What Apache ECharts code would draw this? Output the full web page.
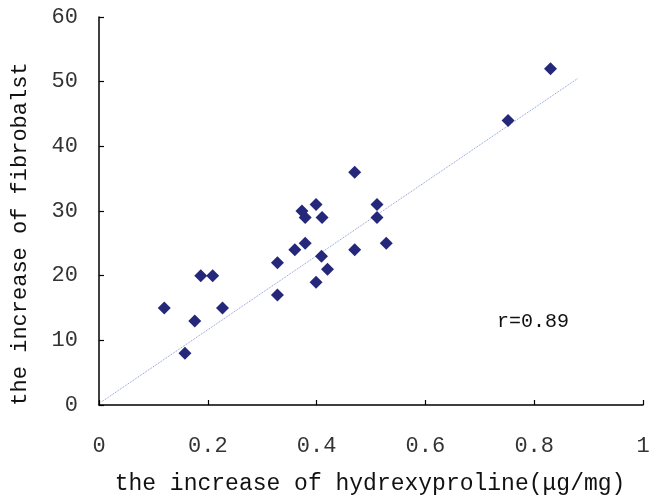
<!DOCTYPE html>
<html><head><meta charset="utf-8">
<script src="https://cdn.jsdelivr.net/npm/echarts@6/dist/echarts.min.js"></script>
<style>html,body{margin:0;padding:0;background:#fff}#c{width:650px;height:498px}</style>
</head><body><div id="c"></div>
<script>
const hydroxyproline = [0.12,0.158,0.176,0.187,0.209,0.227,0.328,0.328,0.36,0.379,0.373,0.379,0.399,0.399,0.409,0.41,0.42,0.47,0.47,0.511,0.511,0.528,0.752,0.83];
const fibroblast     = [15,8,13,20,20,15,22,17,24,25,30,29,31,19,23,29,21,36,24,31,29,25,44,52];
const trendX = [0.005, 0.88];
const trendY = [0.5, 50.5];
const xTicks = [0,0.2,0.4,0.6,0.8,1];
const yTicks = [0,10,20,30,40,50,60];
const rLabel = 'r=0.89';
const xTitle = 'the increase of hydrexyproline(\u03bcg/mg)';
const yTitle = 'the increase of fibrobalst';

const font = '"Liberation Mono", monospace';
const chart = echarts.init(document.getElementById('c'));
chart.setOption({
  animation:false,
  grid:{left:99,top:17,right:7,bottom:93,containLabel:false,outerBoundsMode:'none'},
  xAxis:{type:'value',min:0,max:1,interval:0.2,
    axisLine:{lineStyle:{color:'#000',width:1.5}},
    axisTick:{inside:true,length:5,lineStyle:{color:'#000',width:1.2}},
    splitLine:{show:false},
    axisLabel:{margin:30,fontFamily:font,fontSize:22,color:'#333',
      formatter:v=>String(parseFloat(v.toFixed(1)))}},
  yAxis:{type:'value',min:0,max:60,interval:10,
    axisLine:{show:true,lineStyle:{color:'#000',width:1.5}},
    axisTick:{show:true,inside:true,length:5,lineStyle:{color:'#000',width:1.2}},
    splitLine:{show:false},
    axisLabel:{margin:21,fontFamily:font,fontSize:22,color:'#333'}},
  graphic:[
    {type:'text',left:497,top:312,style:{text:rLabel,fontFamily:font,fontSize:20,fill:'#111'}},
    {type:'text',x:370,y:484,style:{text:xTitle,fontFamily:font,fontSize:23,fill:'#111',align:'center',verticalAlign:'middle'}},
    {type:'text',x:20,y:234,rotation:Math.PI/2,style:{text:yTitle,fontFamily:font,fontSize:22,fill:'#111',align:'center',verticalAlign:'middle'}}
  ],
  series:[
    {type:'line',data:trendX.map((x,i)=>[x,trendY[i]]),symbol:'none',
     lineStyle:{type:'dotted',width:1,color:'#8495d8'},z:1},
    {type:'scatter',data:hydroxyproline.map((x,i)=>[x,fibroblast[i]]),symbol:'diamond',symbolSize:13,
     itemStyle:{color:'#25287a',opacity:1},z:2}
  ]
});
</script></body></html>
